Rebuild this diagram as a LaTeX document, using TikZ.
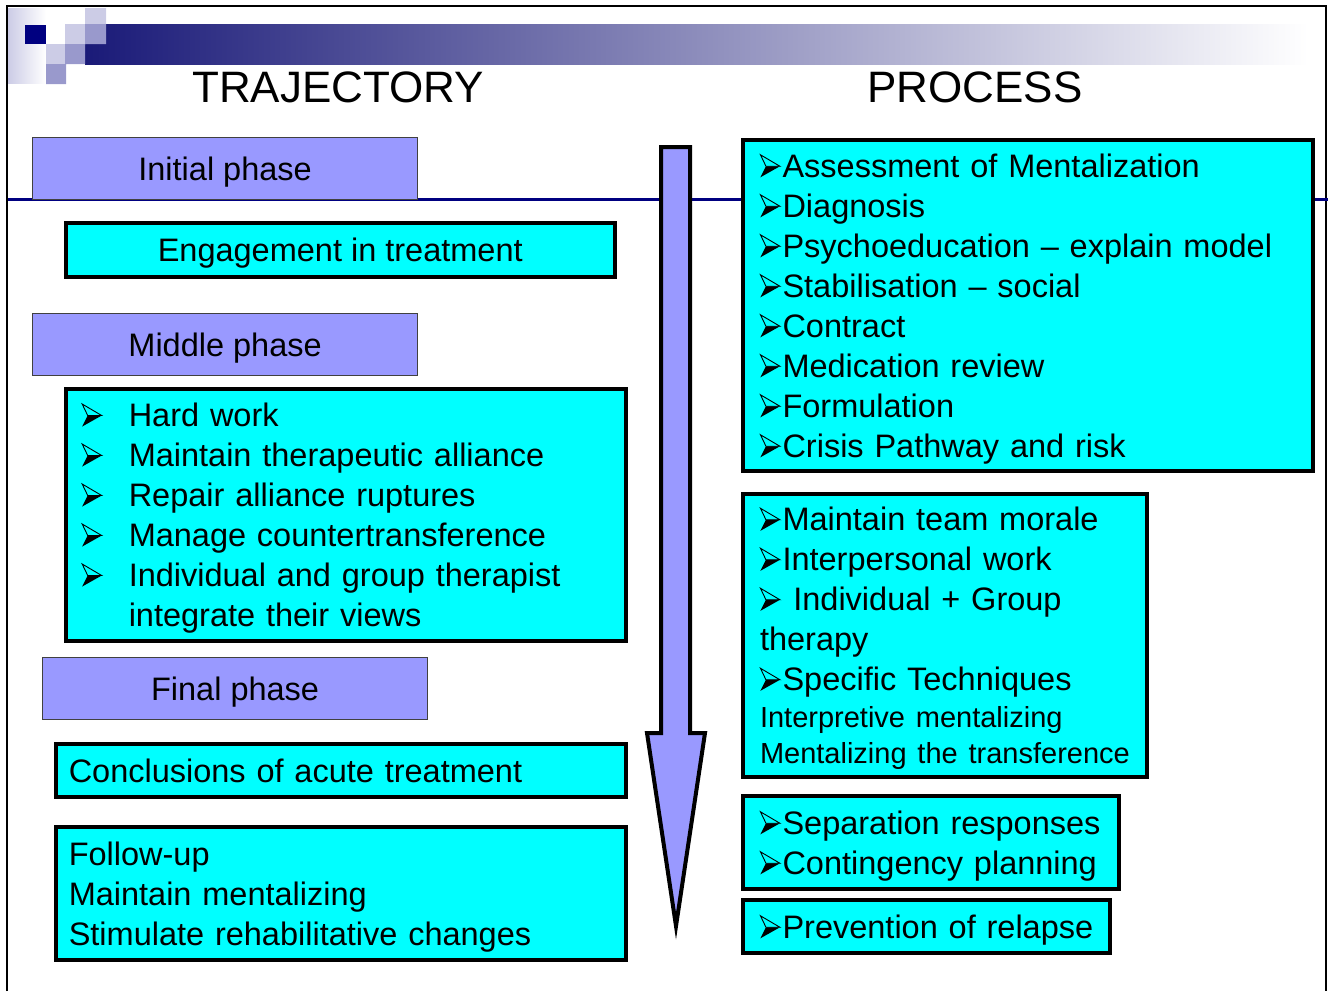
\documentclass[tikz,border=0pt]{standalone}
\usepackage{fontspec}
\setmainfont{Liberation Sans}

\definecolor{phaseblue}{HTML}{9999FF}
\definecolor{boxcyan}{HTML}{00FFFF}
\definecolor{linenavy}{HTML}{000080}
\definecolor{barnavy}{HTML}{1A1A78}
\definecolor{lightlav}{HTML}{CCCCE6}
\definecolor{midlav}{HTML}{9999CC}

% arrowhead bullet, top half open, bottom half solid
\newcommand\arrowhd{\tikz[baseline=0pt,x=1pt,y=1pt,line width=0.9pt,line join=miter]{%
  \draw (0.5,22.5) -- (20,11) -- (6,11) -- cycle;
  \fill (6,11) -- (20,11) -- (0.5,0) -- cycle;}}
\newcommand\bul{\makebox[22.5pt][l]{\arrowhd}}
\newcommand\mbul{\makebox[47pt][l]{\arrowhd}}

\begin{document}
\begin{tikzpicture}[x=1pt,y=-1pt,
    phase/.style={draw=black!75,line width=1.2pt,fill=phaseblue,anchor=north west,
      minimum width=385pt,minimum height=62pt,inner sep=0pt,text depth=0pt,
      font=\fontsize{32.5}{40}\selectfont},
    tealbox/.style={draw=black,line width=3.5pt,fill=boxcyan,anchor=north west,
      inner ysep=0pt,font=\fontsize{32.5}{40}\selectfont},
    listbox/.style={tealbox,align=left},
    rightbox/.style={listbox,line width=4pt},
    title/.style={anchor=base,font=\fontsize{44}{50}\selectfont}]
  \useasboundingbox (0,0) rectangle (1328,991);

  % banner
  \shade[left color=barnavy,right color=white] (85,24) rectangle (1308,64);
  \shade[left color=lightlav,right color=white] (8,8) rectangle (46,83);
  \fill[linenavy] (25,25) rectangle (46,44);
  \fill[lightlav] (46,44) rectangle (66,64) (65,24) rectangle (85,44) (85,8) rectangle (106,24);
  \fill[midlav] (46,64) rectangle (66,84) (65,44) rectangle (85,64) (85,24) rectangle (106,44);

  \draw[line width=2pt] (7,991) -- (7,6) -- (1326,6) -- (1326,991);
  \draw[line width=3pt,linenavy] (8,199) -- (1328,199);

  \node[title] (trajectory) at (338,102) {TRAJECTORY};
  \node[title] (process) at (975,102) {PROCESS};

  % trajectory
  \node[phase] (initial) at (32,137) {Initial phase};
  \node[tealbox,minimum width=549pt,minimum height=54pt,inner xsep=0pt,text depth=0pt] (engage) at (64,221) {Engagement in treatment};
  \node[phase] (middle) at (32,313) {Middle phase};
  \node[listbox,text width=528pt,inner xsep=16pt,minimum height=252pt,text depth=200pt] (midlist) at (64,387)
    {\mbul Hard work\\
     \mbul Maintain therapeutic alliance\\
     \mbul Repair alliance ruptures\\
     \mbul Manage countertransference\\
     \mbul Individual and group therapist\\
     \hspace*{47pt}integrate their views};
  \node[phase] (final) at (42,657) {Final phase};
  \node[listbox,text width=544pt,inner xsep=13pt,minimum height=53pt,text depth=0pt] (concl) at (54,742)
    {Conclusions of acute treatment};
  \node[listbox,text width=544pt,inner xsep=13pt,minimum height=133pt,text depth=80pt] (followup) at (54,825)
    {Follow-up\\
     Maintain mentalizing\\
     Stimulate rehabilitative changes};

  % time arrow
  \draw[line width=4pt,fill=phaseblue,miter limit=10] (661,147) -- (690,147) -- (690,733)
    -- (705,733) -- (676,926) -- (647,733) -- (661,733) -- cycle;

  % process
  \node[rightbox,text width=536pt,inner xsep=17pt,minimum height=331pt,text depth=280pt] (assess) at (741,138)
    {\bul Assessment of Mentalization\\
     \bul Diagnosis\\
     \bul Psychoeducation – explain model\\
     \bul Stabilisation – social\\
     \bul Contract\\
     \bul Medication review\\
     \bul Formulation\\
     \bul Crisis Pathway and risk};
  \node[rightbox,text width=370pt,inner xsep=17pt,minimum height=283pt,text depth=233pt] (morale) at (741,492)
    {\bul Maintain team morale\\
     \bul Interpersonal work\\
     \bul\ Individual + Group\\
     therapy\\
     \bul Specific Techniques\\[-3pt]
     {\fontsize{29}{36}\selectfont Interpretive mentalizing}\\[-4pt]
     {\fontsize{29}{36}\selectfont Mentalizing the transference}};
  \node[rightbox,text width=342pt,inner xsep=17pt,minimum height=93pt,text depth=40pt] (separation) at (741,794)
    {\mbox{\bul Separation responses}\\
     \mbox{\bul Contingency planning}};
  \node[rightbox,text width=333pt,inner xsep=17pt,minimum height=53pt,text depth=0pt] (relapse) at (741,898)
    {\mbox{\bul Prevention of relapse}};
\end{tikzpicture}
\end{document}
